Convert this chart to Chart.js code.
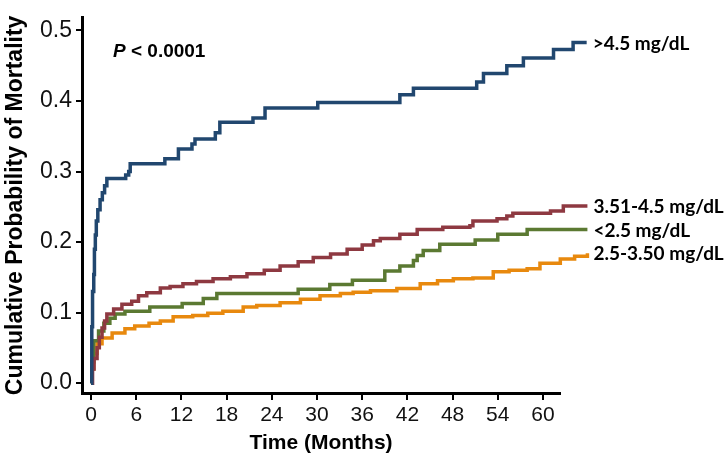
<!DOCTYPE html>
<html>
<head>
<meta charset="utf-8">
<script src="https://cdn.jsdelivr.net/npm/chart.js@4/dist/chart.umd.min.js"></script>
<style>
html, body { margin: 0; padding: 0; background: #fff; }
#wrap { width: 728px; height: 461px; }
</style>
</head>
<body>
<div id="wrap"><canvas id="kmChart" width="728" height="461"></canvas></div>
<script>
// groups (labels drawn at the end of each curve)
const groupLabels = [">4.5 mg/dL", "3.51-4.5 mg/dL", "<2.5 mg/dL", "2.5-3.50 mg/dL"];
const groupColors = ["#21476f", "#8e3941", "#5b7932", "#e8890e"];

const xTicks = [0, 6, 12, 18, 24, 30, 36, 42, 48, 54, 60];
const yTicks = [0, 0.1, 0.2, 0.3, 0.4, 0.5];

// >4.5 mg/dL
const timeHigh = [0, 0.1, 0.2, 0.36, 0.45, 0.57, 0.7, 0.9, 1.2, 1.5, 1.8, 2.1, 4.6, 5.0, 5.2, 9.8, 11.6, 13.4, 13.8, 16.5, 17.1, 21.5, 23.1, 30.1, 41.0, 42.8, 51.2, 52.1, 55.2, 57.4, 61.4, 64.0, 65.8];
const probHigh = [0, 0.08, 0.13, 0.154, 0.19, 0.21, 0.23, 0.246, 0.26, 0.27, 0.28, 0.29, 0.295, 0.30, 0.311, 0.318, 0.332, 0.339, 0.346, 0.355, 0.370, 0.376, 0.390, 0.398, 0.409, 0.418, 0.427, 0.439, 0.450, 0.461, 0.473, 0.483, 0.483];

// 3.51-4.5 mg/dL
const timeMidHigh = [0, 0.2, 0.4, 0.8, 1.1, 1.46, 1.8, 2.1, 3.0, 4.1, 5.4, 6.3, 7.4, 9.2, 10.5, 12.2, 14.0, 16.2, 18.5, 20.7, 23.0, 25.1, 27.5, 29.5, 31.8, 34.0, 36.0, 37.5, 38.4, 41.0, 43.3, 46.7, 50.3, 50.7, 53.9, 55.2, 56.0, 61.0, 62.7, 65.9];
const probMidHigh = [0, 0.02, 0.035, 0.05, 0.065, 0.078, 0.088, 0.098, 0.105, 0.112, 0.116, 0.124, 0.128, 0.135, 0.137, 0.141, 0.144, 0.148, 0.151, 0.155, 0.160, 0.166, 0.172, 0.178, 0.183, 0.190, 0.196, 0.202, 0.205, 0.211, 0.218, 0.221, 0.223, 0.230, 0.233, 0.237, 0.241, 0.244, 0.251, 0.251];

// <2.5 mg/dL
const timeLow = [0, 0.1, 0.36, 1.0, 1.7, 2.5, 3.2, 4.5, 7.8, 12.1, 14.9, 16.7, 27.5, 31.7, 34.7, 39.0, 41.0, 42.8, 43.3, 44.1, 46.3, 51.0, 54.0, 57.9, 65.9];
const probLow = [0, 0.03, 0.06, 0.074, 0.085, 0.092, 0.098, 0.102, 0.108, 0.113, 0.120, 0.127, 0.133, 0.140, 0.146, 0.159, 0.166, 0.174, 0.181, 0.188, 0.197, 0.203, 0.211, 0.218, 0.218];

// 2.5-3.50 mg/dL
const timeMid = [0, 0.1, 0.36, 0.8, 1.46, 2.8, 4.5, 5.8, 7.7, 9.2, 10.9, 13.5, 15.5, 17.5, 20.2, 22.0, 25.1, 27.8, 30.4, 33.1, 34.8, 37.1, 40.6, 43.7, 46.0, 48.1, 50.7, 53.4, 55.5, 57.9, 59.6, 62.3, 64.2, 65.9];
const probMid = [0, 0.02, 0.042, 0.056, 0.064, 0.071, 0.077, 0.081, 0.085, 0.088, 0.094, 0.096, 0.099, 0.102, 0.108, 0.110, 0.114, 0.119, 0.124, 0.127, 0.129, 0.131, 0.134, 0.141, 0.145, 0.148, 0.149, 0.158, 0.160, 0.162, 0.170, 0.176, 0.180, 0.184];

const series = [
  [timeHigh, probHigh],
  [timeMidHigh, probMidHigh],
  [timeLow, probLow],
  [timeMid, probMid]
];

function toPoints(t, p) {
  return t.map((v, i) => ({ x: v, y: p[i] }));
}

const endLabels = {
  id: 'endLabels',
  afterDatasetsDraw(chart) {
    const ctx = chart.ctx;
    ctx.save();
    ctx.fillStyle = '#000';
    ctx.font = 'bold 19px Lato, "Open Sans", sans-serif';
    ctx.textBaseline = 'middle';
    ctx.textAlign = 'left';
    chart.data.datasets.forEach((ds, i) => {
      const pts = chart.getDatasetMeta(i).data;
      const last = pts[pts.length - 1];
      ctx.fillText(groupLabels[i], last.x + 6, last.y + 1);
    });
    // p value
    const x0 = chart.chartArea.left + 31;
    const y0 = 52;
    ctx.font = 'italic bold 19px "Liberation Sans", Arial, sans-serif';
    ctx.fillText('P', x0, y0);
    const w = ctx.measureText('P').width;
    ctx.font = 'bold 19px "Liberation Sans", Arial, sans-serif';
    ctx.fillText(' < 0.0001', x0 + w, y0);
    ctx.restore();
  }
};

const ctx = document.getElementById('kmChart').getContext('2d');
const chart = new Chart(ctx, {
  type: 'line',
  data: {
    datasets: series.map((s, i) => ({
      label: groupLabels[i],
      data: toPoints(s[0], s[1]),
      borderColor: groupColors[i],
      borderWidth: 3.5,
      pointRadius: 0,
      stepped: true,
      fill: false,
      clip: false
    }))
  },
  options: {
    responsive: false,
    animation: false,
    layout: { padding: { left: 0, right: 168, top: 12, bottom: 0 } },
    plugins: { legend: { display: false }, tooltip: { enabled: false } },
    scales: {
      x: {
        type: 'linear',
        bounds: 'data',
        afterDataLimits(scale) { scale.min = -1.2; scale.max = 62.26; },
        afterBuildTicks(scale) { scale.ticks = xTicks.map(v => ({ value: v })); },
        afterFit(scale) { scale.height = 68; },
        border: { display: true, color: '#000', width: 3 },
        grid: { display: true, drawOnChartArea: false, drawTicks: true, tickLength: 7, color: '#000', lineWidth: 2 },
        ticks: { color: '#111', padding: 3, maxRotation: 0, autoSkip: false, font: { family: '"Liberation Sans", Arial, sans-serif', size: 21 } },
        title: { display: true, text: 'Time (Months)', color: '#000', padding: { top: 0, bottom: 5 }, font: { family: '"Liberation Sans", Arial, sans-serif', size: 21, weight: 'bold' } }
      },
      y: {
        type: 'linear',
        bounds: 'data',
        min: -0.014,
        max: 0.518,
        afterBuildTicks(scale) { scale.ticks = yTicks.map(v => ({ value: v })); },
        afterFit(scale) { scale.width = 82; },
        border: { display: true, color: '#000', width: 3 },
        grid: { display: true, drawOnChartArea: false, drawTicks: true, tickLength: 6, color: '#000', lineWidth: 2 },
        ticks: { color: '#111', padding: 4, callback: v => v.toFixed(1), font: { family: '"Liberation Sans", Arial, sans-serif', size: 23 } },
        title: { display: true, text: 'Cumulative Probability of Mortality', color: '#000', padding: { top: 2, bottom: 0 }, font: { family: '"Liberation Sans", Arial, sans-serif', size: 23, weight: 'bold' } }
      }
    }
  },
  plugins: [endLabels]
});
</script>
</body>
</html>
